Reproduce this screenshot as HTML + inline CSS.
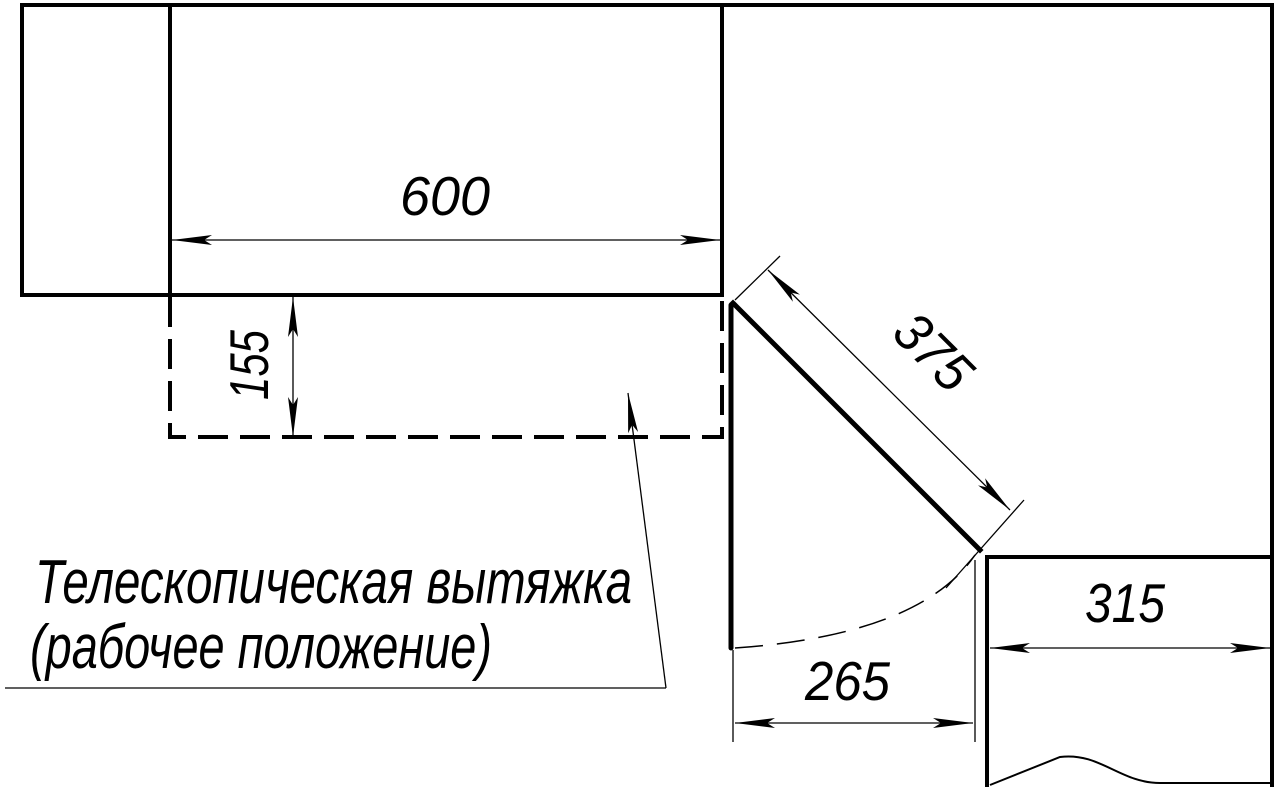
<!DOCTYPE html>
<html><head><meta charset="utf-8"><style>
html,body{margin:0;padding:0;background:#fff;}
svg{display:block}
text{font-family:"Liberation Sans Narrow","Liberation Sans",sans-serif;font-style:italic;fill:#000;}
</style></head><body>
<svg width="1280" height="793" viewBox="0 0 1280 793" xmlns="http://www.w3.org/2000/svg">
<defs>
<marker id="a" viewBox="0 0 40 12" refX="40" refY="6" markerWidth="40" markerHeight="12" markerUnits="userSpaceOnUse" orient="auto">
<path d="M0,1 L40,6 L0,11 L8,6 z" fill="#000"/></marker>
<marker id="s" viewBox="0 0 40 12" refX="0" refY="6" markerWidth="40" markerHeight="12" markerUnits="userSpaceOnUse" orient="auto">
<path d="M40,1 L0,6 L40,11 L32,6 z" fill="#000"/></marker>
</defs>
<g stroke="#000" fill="none" stroke-width="4" stroke-linecap="square">
<path d="M22,5 H1272 V557 H987 V785"/>
<path d="M22,5 V295 H722 V5"/>
<path d="M170,5 V295"/>
<path d="M731,305 V648" stroke-width="5" stroke-linecap="round"/>
<path d="M733,303 L980,550" stroke-width="5"/>
<path d="M1272,557 V785"/>
</g>
<path d="M170,297 V437 H722 V297" stroke="#000" stroke-width="4" fill="none" stroke-dasharray="30,12"/>
<path d="M735,648 Q920,635 975,555" stroke="#000" stroke-width="1.5" fill="none" stroke-dasharray="28,14"/>
<path d="M990,785 L1060,757 C1100,752 1120,783 1160,783 H1272" stroke="#000" stroke-width="2" fill="none"/>
<g stroke="#000" stroke-width="1.3" fill="none">
<line x1="172" y1="240" x2="720" y2="240" marker-start="url(#s)" marker-end="url(#a)"/>
<line x1="293" y1="297" x2="293" y2="437" marker-start="url(#s)" marker-end="url(#a)"/>
<line x1="768" y1="270" x2="1010" y2="510" marker-start="url(#s)" marker-end="url(#a)"/>
<line x1="735" y1="300" x2="780" y2="256"/>
<line x1="946" y1="588" x2="1024" y2="500"/>
<line x1="733" y1="650" x2="733" y2="742"/>
<line x1="975" y1="560" x2="975" y2="742"/>
<line x1="735" y1="723" x2="973" y2="723" marker-start="url(#s)" marker-end="url(#a)"/>
<line x1="990" y1="648" x2="1270" y2="648" marker-start="url(#s)" marker-end="url(#a)"/>
<line x1="666" y1="688" x2="628" y2="393" marker-end="url(#a)"/>
<line x1="5" y1="688" x2="666" y2="688"/>
</g>
<text x="400" y="215" font-size="55" textLength="90" lengthAdjust="spacingAndGlyphs">600</text>
<text transform="translate(268,400) rotate(-90)" font-size="55" textLength="70" lengthAdjust="spacingAndGlyphs">155</text>
<text transform="translate(890,335) rotate(45)" font-size="55" textLength="85" lengthAdjust="spacingAndGlyphs">375</text>
<text x="805" y="700" font-size="55" textLength="85" lengthAdjust="spacingAndGlyphs">265</text>
<text x="1085" y="622" font-size="55" textLength="80" lengthAdjust="spacingAndGlyphs">315</text>
<text x="35" y="603" font-size="62" textLength="597" lengthAdjust="spacingAndGlyphs">Телескопическая вытяжка</text>
<text x="30" y="668" font-size="62" textLength="462" lengthAdjust="spacingAndGlyphs">(рабочее положение)</text>
</svg>
</body></html>
